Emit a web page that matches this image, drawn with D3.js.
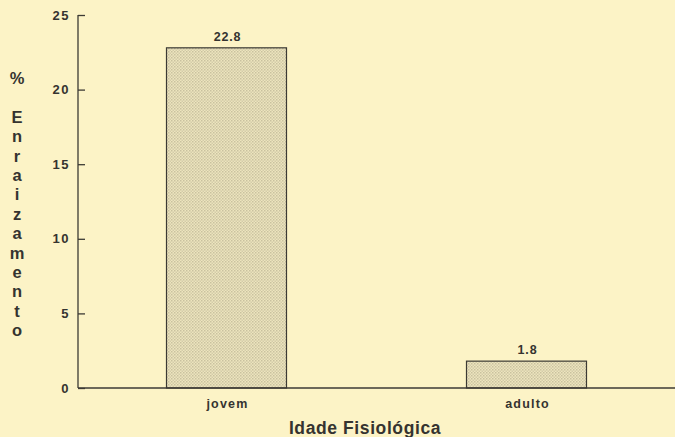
<!DOCTYPE html>
<html>
<head>
<meta charset="utf-8">
<script src="https://cdn.jsdelivr.net/npm/d3@7"></script>
<style>
  body { margin: 0; background: #fcf3c6; }
  svg { display: block; }
</style>
</head>
<body>
<script>
// data
var categories = ["jovem", "adulto"];
var values = [22.8, 1.8];
var yTicks = [0, 5, 10, 15, 20, 25];
var yLabel = "% Enraizamento";
var xTitle = "Idade Fisiológica";

var width = 675, height = 437;
var x0 = 78, y0 = 388, yTop = 15;
var ink = "#353330";

var svg = d3.select("body").append("svg")
  .attr("width", width)
  .attr("height", height)
  .style("font-family", "'Liberation Sans', Arial, sans-serif");

svg.append("rect").attr("width", width).attr("height", height).attr("fill", "#fcf3c6");

// dotted fill like the screened bars
var defs = svg.append("defs");
var pat = defs.append("pattern")
  .attr("id", "dots")
  .attr("width", 3).attr("height", 3)
  .attr("patternUnits", "userSpaceOnUse");
pat.append("rect").attr("width", 3).attr("height", 3).attr("fill", "#ede5bd");
pat.append("rect").attr("width", 1.5).attr("height", 1.5).attr("fill", "#c9c1a0");
pat.append("rect").attr("x", 1.5).attr("y", 1.5).attr("width", 1.5).attr("height", 1.5).attr("fill", "#d3cbaa");

var y = d3.scaleLinear().domain([0, 25]).range([y0, yTop]);
var x = d3.scaleBand().domain(categories).range([x0, width])
  .paddingInner(0.6).paddingOuter(0.295);

// bars
svg.selectAll("rect.bar")
  .data(values)
  .enter().append("rect")
  .attr("class", "bar")
  .attr("x", function(d, i) { return x(categories[i]); })
  .attr("y", function(d) { return y(d); })
  .attr("width", x.bandwidth())
  .attr("height", function(d) { return y0 - y(d); })
  .attr("fill", "url(#dots)")
  .attr("stroke", "#3c3a34")
  .attr("stroke-width", 1.2);

// value labels
svg.selectAll("text.val")
  .data(values)
  .enter().append("text")
  .attr("class", "val")
  .attr("x", function(d, i) { return x(categories[i]) + x.bandwidth() / 2 + 1; })
  .attr("y", function(d) { return y(d) - 7; })
  .attr("text-anchor", "middle")
  .attr("font-size", 12.5)
  .attr("font-weight", "bold")
  .attr("letter-spacing", 0.8)
  .attr("fill", ink)
  .text(function(d) { return d.toFixed(1); });

// y axis, ticks pointing inward
var yAxis = svg.append("g")
  .attr("transform", "translate(" + x0 + ",0)")
  .call(d3.axisRight(y).tickValues(yTicks).tickSize(7).tickFormat(""));
yAxis.select(".domain").remove();
yAxis.selectAll("line").attr("stroke", "#3c3a34").attr("stroke-width", 1.3);
svg.append("line")
  .attr("x1", x0).attr("x2", x0).attr("y1", yTop).attr("y2", y0)
  .attr("stroke", "#3c3a34").attr("stroke-width", 1.3);

svg.selectAll("text.ytick")
  .data(yTicks)
  .enter().append("text")
  .attr("class", "ytick")
  .attr("x", 70)
  .attr("y", function(d) { return y(d) + 4.5; })
  .attr("text-anchor", "end")
  .attr("font-size", 13)
  .attr("font-weight", "bold")
  .attr("letter-spacing", 1.5)
  .attr("fill", ink)
  .text(function(d) { return d; });

// x axis
svg.append("line")
  .attr("x1", x0).attr("x2", width).attr("y1", y0).attr("y2", y0)
  .attr("stroke", "#3c3a34").attr("stroke-width", 1.3);

svg.selectAll("text.xcat")
  .data(categories)
  .enter().append("text")
  .attr("class", "xcat")
  .attr("x", function(d) { return x(d) + x.bandwidth() / 2 + 1; })
  .attr("y", 408)
  .attr("text-anchor", "middle")
  .attr("font-size", 12.5)
  .attr("font-weight", "bold")
  .attr("letter-spacing", 1.2)
  .attr("fill", ink)
  .text(function(d) { return d; });

svg.append("text")
  .attr("x", 365)
  .attr("y", 434)
  .attr("text-anchor", "middle")
  .attr("font-size", 17.5)
  .attr("font-weight", "bold")
  .attr("letter-spacing", 0.6)
  .attr("fill", ink)
  .text(xTitle);

// stacked vertical y label, one letter per line, blank line after the %
var letters = yLabel.split("");
svg.selectAll("text.ylab")
  .data(letters)
  .enter().append("text")
  .attr("class", "ylab")
  .attr("x", 17)
  .attr("y", function(d, i) { return 84 + i * 19.4; })
  .attr("text-anchor", "middle")
  .attr("font-size", 16.5)
  .attr("font-weight", "bold")
  .attr("fill", ink)
  .text(function(d) { return d; });
</script>
</body>
</html>
